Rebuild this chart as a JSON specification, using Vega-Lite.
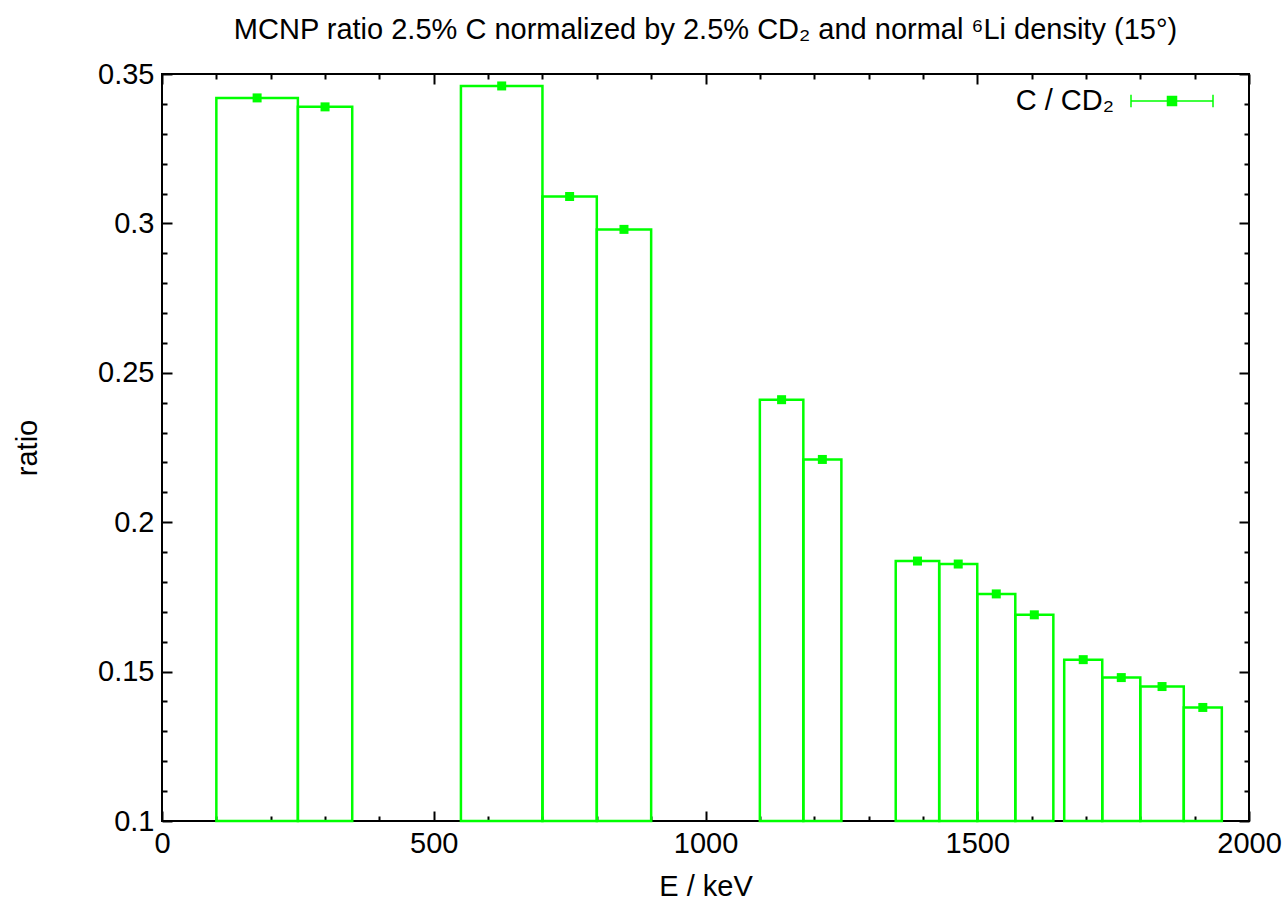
{
  "$schema": "https://vega.github.io/schema/vega-lite/v6.json",
  "width": 1087,
  "height": 747,
  "autosize": "none",
  "padding": {"left": 162, "top": 74, "right": 38, "bottom": 86},
  "background": "white",
  "config": {
    "view": {"stroke": "black", "strokeWidth": 2},
    "font": "Liberation Sans",
    "axis": {"domain": false, "grid": false, "labelColor": "black", "titleColor": "black", "labelFontSize": 29, "titleFontSize": 29, "titleFontWeight": "normal", "tickColor": "black", "tickWidth": 2, "labelFlush": false}
  },
  "title": {"text": "MCNP ratio 2.5% C normalized by 2.5% CD₂ and normal ⁶Li density (15°)", "fontSize": 29, "fontWeight": "normal", "offset": 14, "anchor": "middle", "color": "black"},
  "data": {"values": [
    {"lo": 100, "hi": 250, "mid": 175, "ratio": 0.342, "series": "C / CD₂"},
    {"lo": 250, "hi": 350, "mid": 300, "ratio": 0.339, "series": "C / CD₂"},
    {"lo": 550, "hi": 700, "mid": 625, "ratio": 0.346, "series": "C / CD₂"},
    {"lo": 700, "hi": 800, "mid": 750, "ratio": 0.309, "series": "C / CD₂"},
    {"lo": 800, "hi": 900, "mid": 850, "ratio": 0.298, "series": "C / CD₂"},
    {"lo": 1100, "hi": 1180, "mid": 1140, "ratio": 0.241, "series": "C / CD₂"},
    {"lo": 1180, "hi": 1250, "mid": 1215, "ratio": 0.221, "series": "C / CD₂"},
    {"lo": 1350, "hi": 1430, "mid": 1390, "ratio": 0.187, "series": "C / CD₂"},
    {"lo": 1430, "hi": 1500, "mid": 1465, "ratio": 0.186, "series": "C / CD₂"},
    {"lo": 1500, "hi": 1570, "mid": 1535, "ratio": 0.176, "series": "C / CD₂"},
    {"lo": 1570, "hi": 1640, "mid": 1605, "ratio": 0.169, "series": "C / CD₂"},
    {"lo": 1660, "hi": 1730, "mid": 1695, "ratio": 0.154, "series": "C / CD₂"},
    {"lo": 1730, "hi": 1800, "mid": 1765, "ratio": 0.148, "series": "C / CD₂"},
    {"lo": 1800, "hi": 1880, "mid": 1840, "ratio": 0.145, "series": "C / CD₂"},
    {"lo": 1880, "hi": 1950, "mid": 1915, "ratio": 0.138, "series": "C / CD₂"}
  ]},
  "layer": [
    {
      "mark": {"type": "rect", "fill": "white", "fillOpacity": 0, "stroke": "#00ff00", "strokeWidth": 2.5},
      "encoding": {
        "x": {"field": "lo", "type": "quantitative", "scale": {"domain": [0, 2000], "nice": false},
          "axis": {"orient": "bottom", "title": "E / keV", "titlePadding": 14, "labelFontSize": 29, "titleFontSize": 29, "labelFlush": false,
            "values": [0,100,200,300,400,500,600,700,800,900,1000,1100,1200,1300,1400,1500,1600,1700,1800,1900,2000],
            "tickSize": {"condition": {"test": "datum.value % 500 === 0", "value": -10}, "value": -5},
            "labelExpr": "datum.value % 500 === 0 ? datum.label : ''", "labelPadding": 18, "format": "d"}},
        "x2": {"field": "hi"},
        "y": {"field": "ratio", "type": "quantitative", "scale": {"domain": [0.1, 0.35], "nice": false, "zero": false},
          "axis": {"orient": "left", "title": "ratio", "titlePadding": 55, "labelFontSize": 29, "titleFontSize": 29, "labelFlush": false,
            "values": [0.1,0.11,0.12,0.13,0.14,0.15,0.16,0.17,0.18,0.19,0.2,0.21,0.22,0.23,0.24,0.25,0.26,0.27,0.28,0.29,0.3,0.31,0.32,0.33,0.34,0.35],
            "tickSize": {"condition": {"test": "round(datum.value*100) % 5 === 0", "value": -10}, "value": -5},
            "labelExpr": "round(datum.value*100) % 5 === 0 ? format(datum.value, '.2~f') : ''", "labelPadding": 18}},
        "y2": {"datum": 0.1}
      }
    },
    {
      "mark": {"type": "point", "shape": "square", "filled": true, "size": 81, "opacity": 1},
      "encoding": {
        "x": {"field": "mid", "type": "quantitative",
          "axis": {"orient": "top", "title": null, "labels": false,
            "values": [0,100,200,300,400,500,600,700,800,900,1000,1100,1200,1300,1400,1500,1600,1700,1800,1900,2000],
            "tickSize": {"condition": {"test": "datum.value % 500 === 0", "value": -10}, "value": -5}}},
        "y": {"field": "ratio", "type": "quantitative",
          "axis": {"orient": "right", "title": null, "labels": false,
            "values": [0.1,0.11,0.12,0.13,0.14,0.15,0.16,0.17,0.18,0.19,0.2,0.21,0.22,0.23,0.24,0.25,0.26,0.27,0.28,0.29,0.3,0.31,0.32,0.33,0.34,0.35],
            "tickSize": {"condition": {"test": "round(datum.value*100) % 5 === 0", "value": -10}, "value": -5}}},
        "color": {"field": "series", "type": "nominal", "scale": {"range": ["#00ff00"]},
          "legend": {"orient": "none", "legendX": 968, "legendY": -15, "title": null, "padding": 0,
            "symbolType": "M-1,0H1M-1,-0.15V0.15M1,-0.15V0.15M-0.11,-0.11H0.11V0.11H-0.11Z",
            "symbolSize": 6724, "symbolStrokeWidth": 1.5, "symbolStrokeColor": "#00ff00", "symbolFillColor": "#00ff00", "symbolOpacity": 1,
            "labelFontSize": 29, "labelColor": "black", "labelAlign": "right", "labelOffset": -100, "labelLimit": 400}}
      }
    }
  ],
  "resolve": {"axis": {"x": "independent", "y": "independent"}}
}
